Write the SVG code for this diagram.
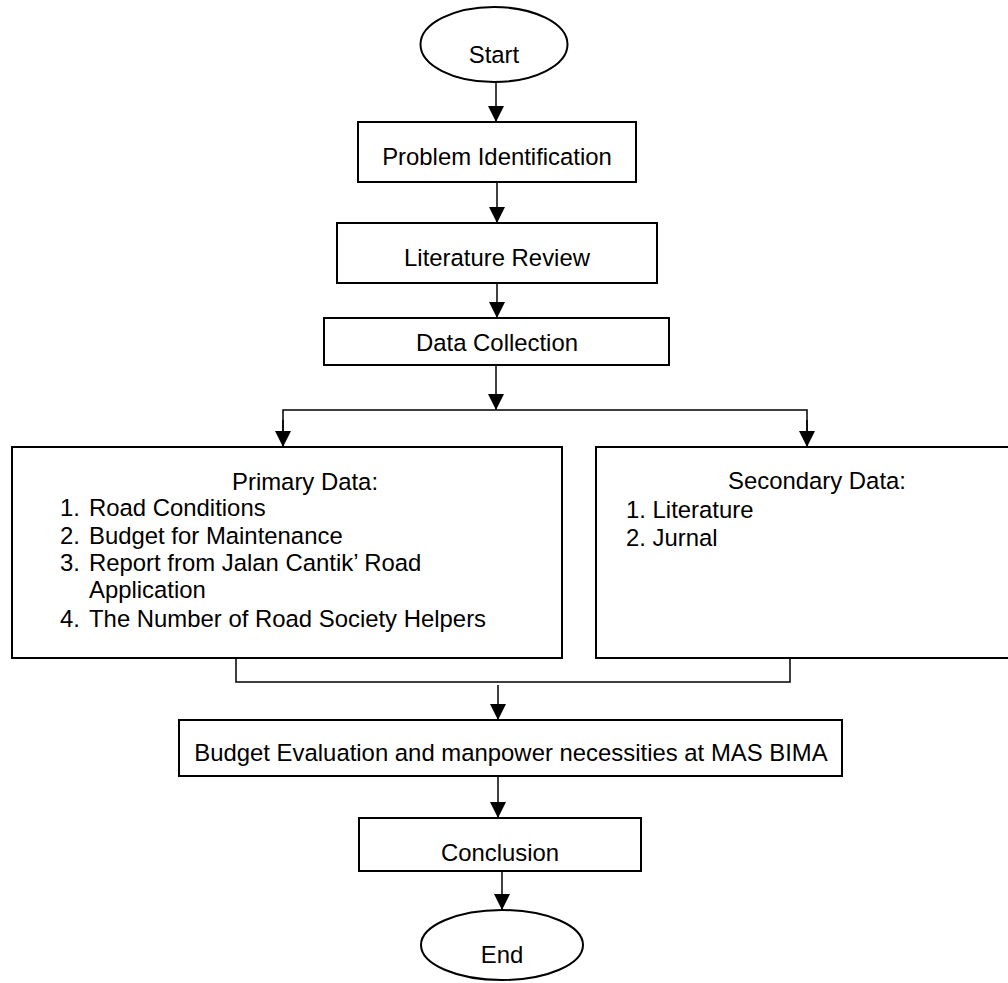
<svg xmlns="http://www.w3.org/2000/svg" width="1008" height="983" viewBox="0 0 1008 983">
<defs>
<marker id="ah" markerWidth="16" markerHeight="16" refX="16" refY="8" orient="auto" markerUnits="userSpaceOnUse"><path d="M0,0 L16,8 L0,16 z" fill="#000"/></marker>
<style>
.box{fill:#fff;stroke:#000;stroke-width:2}
.t{font-family:"Liberation Sans",Arial,sans-serif;font-size:23.9px;fill:#000}
.c{text-anchor:middle}
.con{fill:none;stroke:#000;stroke-width:1.5}
</style>
</defs>
<rect width="1008" height="983" fill="#fff"/>
<g id="connectors">
<line class="con" x1="496" y1="82" x2="496" y2="122" marker-end="url(#ah)"/>
<line class="con" x1="497" y1="182" x2="497" y2="223" marker-end="url(#ah)"/>
<line class="con" x1="497" y1="283" x2="497" y2="318" marker-end="url(#ah)"/>
<line class="con" x1="496" y1="365" x2="496" y2="410" marker-end="url(#ah)"/>
<polyline class="con" points="283,447 283,410 807,410 807,447"/>
<line class="con" x1="283" y1="420" x2="283" y2="447" marker-end="url(#ah)"/>
<line class="con" x1="807" y1="420" x2="807" y2="447" marker-end="url(#ah)"/>
<polyline class="con" points="236,658 236,682 790,682 790,658"/>
<line class="con" x1="498" y1="685" x2="498" y2="720" marker-end="url(#ah)"/>
<line class="con" x1="498" y1="776" x2="498" y2="818" marker-end="url(#ah)"/>
<line class="con" x1="502" y1="871" x2="502" y2="910" marker-end="url(#ah)"/>
</g>
<g id="start">
<ellipse class="box" cx="494" cy="44.5" rx="73.5" ry="37.5"/>
<text class="t c" x="494" y="63">Start</text>
</g>
<g id="problem">
<rect class="box" x="358" y="122" width="278" height="60"/>
<text class="t c" x="497" y="165">Problem Identification</text>
</g>
<g id="literature">
<rect class="box" x="337" y="223" width="320" height="60"/>
<text class="t c" x="497" y="266">Literature Review</text>
</g>
<g id="data">
<rect class="box" x="324" y="318" width="345" height="47"/>
<text class="t c" x="497" y="351">Data Collection</text>
</g>
<g id="primary">
<rect class="box" x="12" y="447" width="550" height="211"/>
<text class="t" x="232" y="490">Primary Data:</text>
<text class="t" x="60" y="516">1.</text><text class="t" x="89" y="516">Road Conditions</text>
<text class="t" x="60" y="543.5">2.</text><text class="t" x="89" y="543.5">Budget for Maintenance</text>
<text class="t" x="60" y="571">3.</text><text class="t" x="89" y="571">Report from Jalan Cantik’ Road</text>
<text class="t" x="89" y="598">Application</text>
<text class="t" x="60" y="626.5">4.</text><text class="t" x="89" y="626.5">The Number of Road Society Helpers</text>
</g>
<g id="secondary">
<rect class="box" x="596" y="447" width="420" height="211"/>
<text class="t" x="728" y="489">Secondary Data:</text>
<text class="t" x="626" y="518">1. Literature</text>
<text class="t" x="626" y="546">2. Jurnal</text>
</g>
<g id="budget">
<rect class="box" x="179" y="720" width="663" height="56"/>
<text class="t c" x="511" y="761">Budget Evaluation and manpower necessities at MAS BIMA</text>
</g>
<g id="conclusion">
<rect class="box" x="359" y="818" width="282" height="53"/>
<text class="t c" x="500" y="861">Conclusion</text>
</g>
<g id="end">
<ellipse class="box" cx="502" cy="945" rx="81" ry="35"/>
<text class="t c" x="502" y="963">End</text>
</g>
</svg>
